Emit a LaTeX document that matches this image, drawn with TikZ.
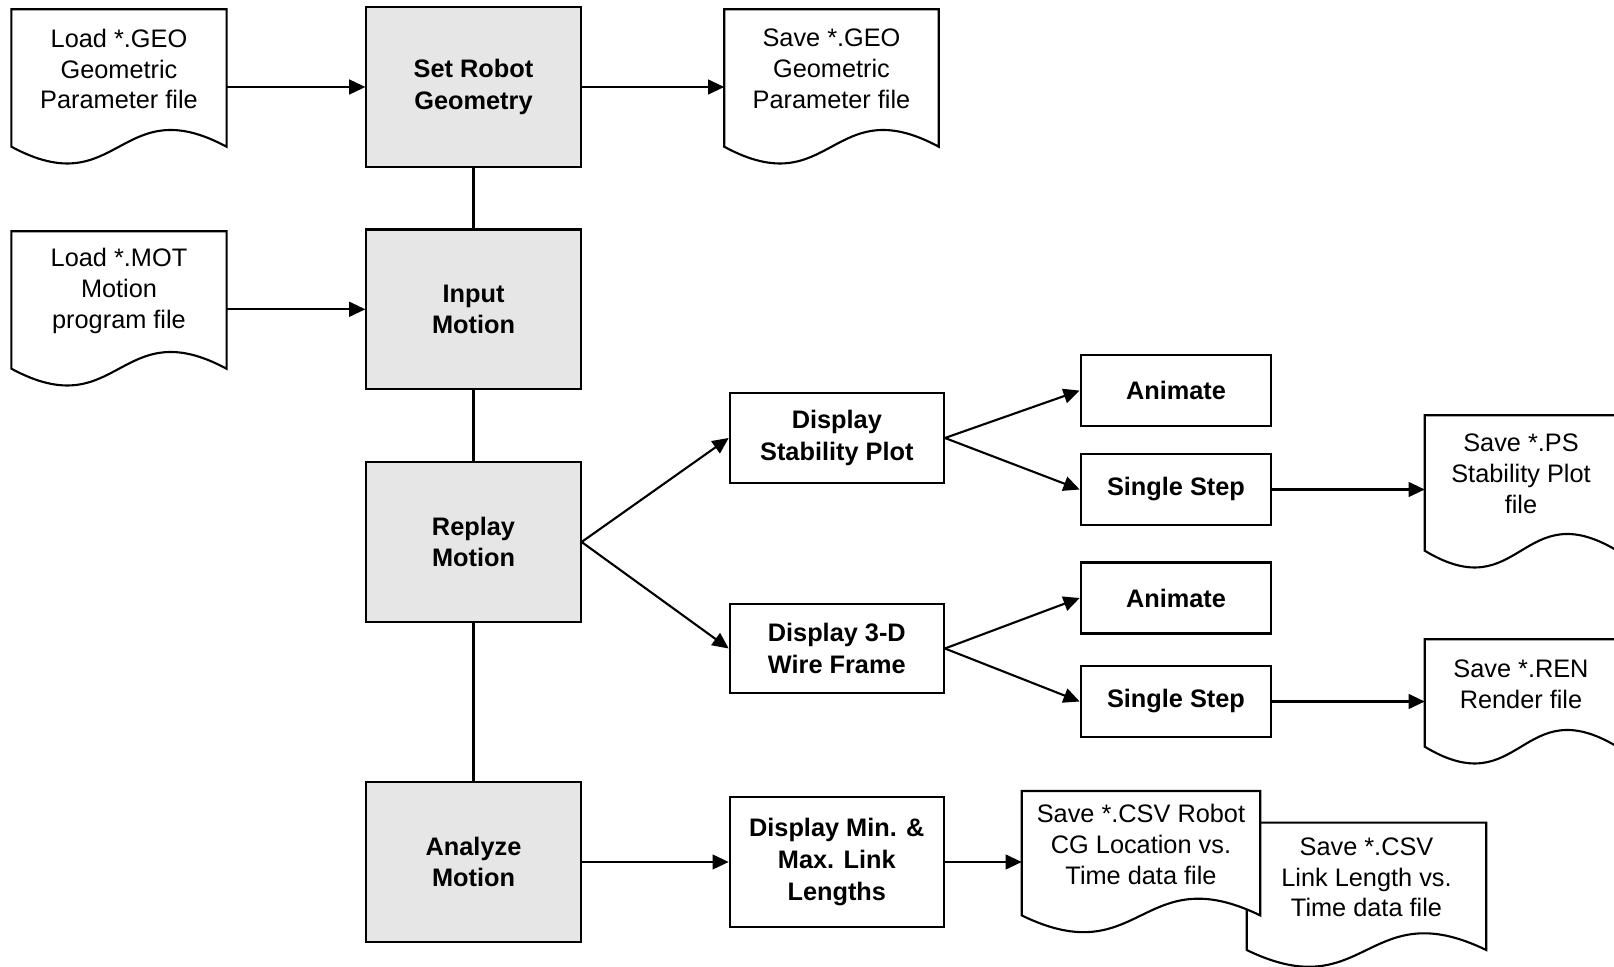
\documentclass[tikz,border=0pt]{standalone}
\usepackage{fontspec}
\setmainfont{Liberation Sans}
\usetikzlibrary{arrows.meta, calc, backgrounds}
\definecolor{procgray}{RGB}{230,230,230}

% outline of a document symbol round a named node
\newcommand{\docoutline}[1]{%
  \draw[docline] (#1.north west) -- (#1.north east) -- ($(#1.south east)+(0,18)$)
    .. controls ($(#1.south)+(0,-40)$) and ($(#1.south)+(0,76)$) .. ($(#1.south west)+(0,18)$) -- cycle;}

\begin{document}
\begin{tikzpicture}[
    x=0.01cm, y=-0.01cm,
    font=\fontsize{7.2}{8.8}\selectfont,
    mainbox/.style={draw, fill=procgray, line width=0.6pt, align=center, minimum width=2.14cm, minimum height=1.595cm, font=\fontsize{7.2}{9}\selectfont\bfseries},
    subbox/.style={draw, fill=white, line width=0.6pt, align=center, minimum width=2.14cm, font=\fontsize{7.2}{9}\selectfont\bfseries},
    stepbox/.style={draw, fill=white, line width=0.6pt, minimum width=1.904cm, minimum height=0.71cm, font=\fontsize{7.2}{9}\selectfont\bfseries},
    docbox/.style={align=center, inner sep=1pt},
    docline/.style={fill=white, line width=0.6pt},
    arr/.style={-{Triangle[length=4.6pt, width=4.2pt]}, line width=0.6pt},
    link/.style={line width=0.6pt}
]
\useasboundingbox (0,0) rectangle (1614,967);

% main column
\node[mainbox] (setgeo) at (473.5,87) {Set Robot\\Geometry};
\node[mainbox] (inmotion) at (473.5,309.3) {Input\\Motion};
\node[mainbox] (replay) at (473.5,542) {Replay\\Motion};
\node[mainbox] (analyze) at (473.5,862) {Analyze\\Motion};

% files
\node[docbox, minimum width=2.136cm, minimum height=1.18cm] (loadgeo) at (119,69) {Load *.GEO\\Geometric\\Parameter file};
\node[docbox, minimum width=2.136cm, minimum height=1.18cm] (loadmot) at (119,291) {Load *.MOT\\Motion\\program file};
\node[docbox, minimum width=2.13cm, minimum height=1.18cm] (savegeo) at (831.5,69) {Save *.GEO\\Geometric\\Parameter file};
\node[docbox, minimum width=1.91cm, minimum height=1.16cm] (saveps) at (1521,474) {Save *.PS\\Stability Plot\\file};
\node[docbox, minimum width=1.91cm, minimum height=0.88cm] (saveren) at (1521,684) {Save *.REN\\Render file};
\node[docbox, minimum width=2.38cm, minimum height=1.08cm] (csvlink) at (1366.5,877.3) {Save *.CSV\\Link Length vs.\\Time data file};
\node[docbox, minimum width=2.37cm, minimum height=1.05cm] (csvrobot) at (1141,844.2) {Save *.CSV Robot\\CG Location vs.\\Time data file};

% display boxes
\node[subbox, minimum height=0.895cm] (stability) at (836.8,438) {Display\\Stability Plot};
\node[subbox, minimum height=0.885cm] (wireframe) at (836.8,648.5) {Display 3-D\\Wire Frame};
\node[subbox, minimum height=1.307cm] (minmax) at (836.8,862) {Display Min. \&\\Max. Link\\Lengths};

\node[stepbox] (animA) at (1176,390.6) {Animate};
\node[stepbox] (stepA) at (1176,489.5) {Single Step};
\node[stepbox] (animB) at (1176,598) {Animate};
\node[stepbox] (stepB) at (1176,701.5) {Single Step};

\begin{pgfonlayer}{background}
\docoutline{loadgeo}
\docoutline{loadmot}
\docoutline{savegeo}
\docoutline{saveps}
\docoutline{saveren}
\docoutline{csvlink}
\docoutline{csvrobot}
\end{pgfonlayer}

% connectors
\draw[link] (setgeo) -- (inmotion);
\draw[link] (inmotion) -- (replay);
\draw[link] (replay) -- (analyze);

\draw[arr] (setgeo.west -| loadgeo.east) -- (setgeo.west);
\draw[arr] (setgeo.east) -- (setgeo.east -| savegeo.west);
\draw[arr] (inmotion.west -| loadmot.east) -- (inmotion.west);

\draw[arr] (replay.east) -- (stability.west);
\draw[arr] (replay.east) -- (wireframe.west);
\draw[arr] (stability.east) -- (animA.west);
\draw[arr] (stability.east) -- (stepA.west);
\draw[arr] (wireframe.east) -- (animB.west);
\draw[arr] (wireframe.east) -- (stepB.west);
\draw[arr] (stepA.east) -- (stepA.east -| saveps.west);
\draw[arr] (stepB.east) -- (stepB.east -| saveren.west);

\draw[arr] (analyze.east) -- (minmax.west);
\draw[arr] (minmax.east) -- (minmax.east -| csvrobot.west);
\end{tikzpicture}
\end{document}
